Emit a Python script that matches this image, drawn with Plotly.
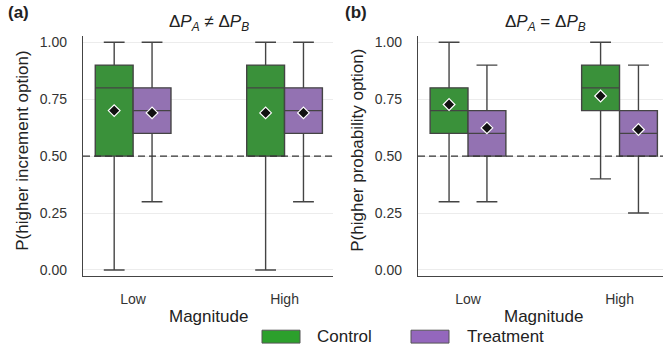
import plotly.graph_objects as go

W, H = 663, 356

# ---------------- data ----------------
magnitudes = ["Low", "High"]
groups = ["Control", "Treatment"]

# panel (a): P(higher increment option)
a_ctrl_low = [0.00, 0.00]
a_ctrl_q1 = [0.50, 0.50]
a_ctrl_med = [0.80, 0.80]
a_ctrl_q3 = [0.90, 0.90]
a_ctrl_high = [1.00, 1.00]
a_ctrl_mean = [0.70, 0.69]

a_trt_low = [0.30, 0.30]
a_trt_q1 = [0.60, 0.60]
a_trt_med = [0.70, 0.70]
a_trt_q3 = [0.80, 0.80]
a_trt_high = [1.00, 1.00]
a_trt_mean = [0.69, 0.69]

# panel (b): P(higher probability option)
b_ctrl_low = [0.30, 0.40]
b_ctrl_q1 = [0.60, 0.70]
b_ctrl_med = [0.70, 0.80]
b_ctrl_q3 = [0.80, 0.90]
b_ctrl_high = [1.00, 1.00]
b_ctrl_mean = [0.727, 0.764]

b_trt_low = [0.30, 0.25]
b_trt_q1 = [0.50, 0.50]
b_trt_med = [0.60, 0.60]
b_trt_q3 = [0.70, 0.70]
b_trt_high = [0.90, 0.90]
b_trt_mean = [0.624, 0.617]

y_ticks = [0.0, 0.25, 0.5, 0.75, 1.0]

# ---------------- styling ----------------
box_fill = {"Control": "#3a913a", "Treatment": "#9372b2"}
legend_fill = {"Control": "#2ca02c", "Treatment": "#9467bd"}
edge = "#444444"
txt = "#333333"
font_family = "Liberation Sans, Arial, sans-serif"
box_w = 0.25
offsets = {"Control": -0.125, "Treatment": 0.125}

fig = go.Figure()


def add_panel(xa, ya, ctrl, trt):
    for g, d in (("Control", ctrl), ("Treatment", trt)):
        xs = [i + offsets[g] for i in range(len(magnitudes))]
        fig.add_trace(go.Box(
            x=xs, lowerfence=d[0], q1=d[1], median=d[2], q3=d[3], upperfence=d[4],
            width=box_w, whiskerwidth=0.55,
            fillcolor=box_fill[g], line=dict(color=edge, width=1.4),
            name=g, xaxis=xa, yaxis=ya, showlegend=False, hoverinfo="skip",
        ))
    for g, d in (("Control", ctrl), ("Treatment", trt)):
        xs = [i + offsets[g] for i in range(len(magnitudes))]
        fig.add_trace(go.Scatter(
            x=xs, y=d[5], mode="markers",
            marker=dict(symbol="diamond", size=9, color="#111111",
                        line=dict(color="white", width=1.2)),
            xaxis=xa, yaxis=ya, showlegend=False, hoverinfo="skip",
        ))


add_panel("x", "y",
          (a_ctrl_low, a_ctrl_q1, a_ctrl_med, a_ctrl_q3, a_ctrl_high, a_ctrl_mean),
          (a_trt_low, a_trt_q1, a_trt_med, a_trt_q3, a_trt_high, a_trt_mean))
add_panel("x2", "y2",
          (b_ctrl_low, b_ctrl_q1, b_ctrl_med, b_ctrl_q3, b_ctrl_high, b_ctrl_mean),
          (b_trt_low, b_trt_q1, b_trt_med, b_trt_q3, b_trt_high, b_trt_mean))

y_dom = [1 - 277 / H, 1 - 35 / H]
y_rng = [-0.025, 1.029]

common_y = dict(range=y_rng, domain=y_dom, tickvals=y_ticks, tickformat=".2f",
                showgrid=True, gridcolor="#ececec", gridwidth=1, zeroline=False,
                showline=True, linecolor=edge, linewidth=1.3, ticks="",
                ticklabelstandoff=12, tickfont=dict(size=14, color=txt))
common_x = dict(tickvals=list(range(len(magnitudes))), ticktext=magnitudes,
                showgrid=False, zeroline=False, showline=True, linecolor=edge,
                linewidth=1.3, ticks="", ticklabelstandoff=10,
                tickfont=dict(size=14, color=txt))

fig.update_layout(
    width=W, height=H, margin=dict(l=0, r=0, t=0, b=0),
    paper_bgcolor="white", plot_bgcolor="white",
    font=dict(family=font_family, color=txt),
    showlegend=False, boxmode="overlay",
    xaxis=dict(domain=[83 / W, 333 / W], range=[-0.331, 1.32], anchor="y", **common_x),
    yaxis=dict(anchor="x", **common_y),
    xaxis2=dict(domain=[418 / W, 1.0], range=[-0.33, 1.287], anchor="y2", **common_x),
    yaxis2=dict(anchor="x2", **common_y),
)

# reference line at 0.5
for xr, yr in (("x domain", "y"), ("x2 domain", "y2")):
    fig.add_shape(type="line", xref=xr, yref=yr, x0=0, x1=1, y0=0.5, y1=0.5,
                  line=dict(color="#333333", width=1.4, dash="7px,4px"), layer="above")


def ann(text, px, py, size, angle=0, xanchor="center"):
    fig.add_annotation(text=text, xref="paper", yref="paper", x=px / W, y=1 - py / H,
                       showarrow=False, textangle=angle, xanchor=xanchor, yanchor="middle",
                       font=dict(size=size, color="#222222", family=font_family))


ann("<b>(a)</b>", 18, 12, 17)
ann("<b>(b)</b>", 356, 12, 17)
ann("Δ<i>P</i><sub><i>A</i></sub> ≠ Δ<i>P</i><sub><i>B</i></sub>", 209, 22, 17)
ann("Δ<i>P</i><sub><i>A</i></sub> = Δ<i>P</i><sub><i>B</i></sub>", 545, 22, 17)
ann("P(higher increment option)", 23, 151, 17, angle=-90)
ann("P(higher probability option)", 358, 151, 17, angle=-90)
ann("Magnitude", 208, 318, 17)
ann("Magnitude", 543, 318, 17)

# legend
leg = [("Control", 262, 315), ("Treatment", 411, 465)]
for name, x0, tx in leg:
    fig.add_shape(type="rect", xref="paper", yref="paper",
                  x0=x0 / W, x1=(x0 + 38) / W, y0=1 - 345 / H, y1=1 - 332 / H,
                  fillcolor=legend_fill[name], line=dict(color="#555555", width=1))
    ann(name, tx, 338, 17, xanchor="left")

fig.write_html("out.html")
